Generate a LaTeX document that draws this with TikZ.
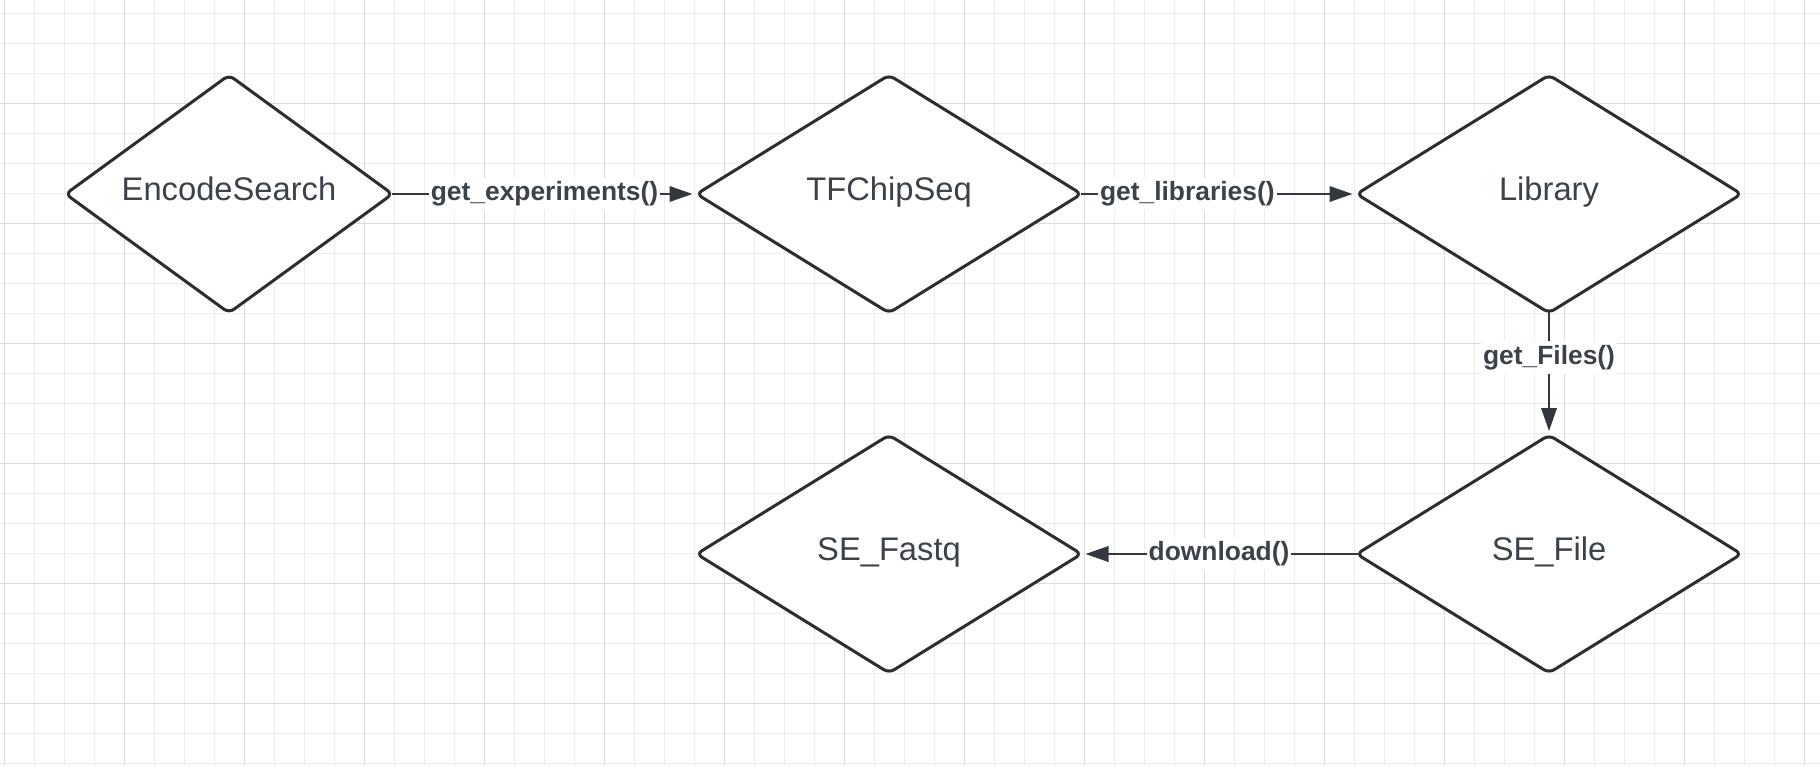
\documentclass[tikz,border=0pt]{standalone}
\usepackage{fontspec}
\setmainfont{Liberation Sans}
\usetikzlibrary{shapes.geometric,arrows.meta}
\definecolor{gridminor}{HTML}{EDEDED}
\definecolor{gridmajor}{HTML}{DCDCDC}
\definecolor{shapeline}{HTML}{2B2D31}
\definecolor{txt}{HTML}{3C424A}
\definecolor{conn}{HTML}{33383F}
\begin{document}
\begin{tikzpicture}[x=0.5pt,y=-0.5pt,
  dia/.style={diamond, aspect=1.4, draw=shapeline, line width=1.5pt, fill=white,
    rounded corners=3pt, inner sep=0pt, text=txt,
    font=\fontsize{16.35pt}{19pt}\selectfont, text height=10pt, text depth=4pt,
    minimum height=119.5pt},
  smalldia/.style={dia, minimum width=164pt},
  bigdia/.style={dia, minimum width=193pt},
  conn/.style={draw=conn, line width=1pt, -{Triangle[length=11.5pt,width=7.75pt]},
    shorten >=1pt, shorten <=-1.5pt},
  elabel/.style={fill=white, text=txt, inner xsep=1pt, inner ysep=2pt,
    font=\bfseries\fontsize{13.2pt}{15pt}\selectfont},
  gminor/.style={draw=gridminor, line width=0.5pt},
  gmajor/.style={draw=gridmajor, line width=0.5pt}]
\useasboundingbox (0,0) rectangle (1820,766);
\fill[white] (0,0) rectangle (1820,766);
% grid
\foreach \k in {0,...,60} \draw[gminor] (4+30*\k,0) -- (4+30*\k,766);
\foreach \k in {0,...,25} \draw[gminor] (0,13.3+30*\k) -- (1820,13.3+30*\k);
\foreach \k in {0,...,15} \draw[gmajor] (4+120*\k,0) -- (4+120*\k,766);
\foreach \k in {0,...,5} \draw[gmajor] (0,103.3+120*\k) -- (1820,103.3+120*\k);
% nodes
\node[smalldia] (es) at (229,194) {EncodeSearch};
\node[bigdia] (tf) at (889,194) {TFChipSeq};
\node[bigdia] (lib) at (1549,194) {Library};
\node[bigdia] (sf) at (889,554) {SE\_Fastq};
\node[bigdia] (sef) at (1549,554) {SE\_File};
% connectors
\draw[conn] (es.east) -- node[elabel] {get\_experiments()} (tf.west);
\draw[conn] (tf.east) -- node[elabel, pos=0.383] {get\_libraries()} (lib.west);
\draw[conn] (lib.south) -- node[elabel, pos=0.36] {get\_Files()} (sef.north);
\draw[conn] (sef.west) -- node[elabel] {download()} (sf.east);
\end{tikzpicture}
\end{document}
